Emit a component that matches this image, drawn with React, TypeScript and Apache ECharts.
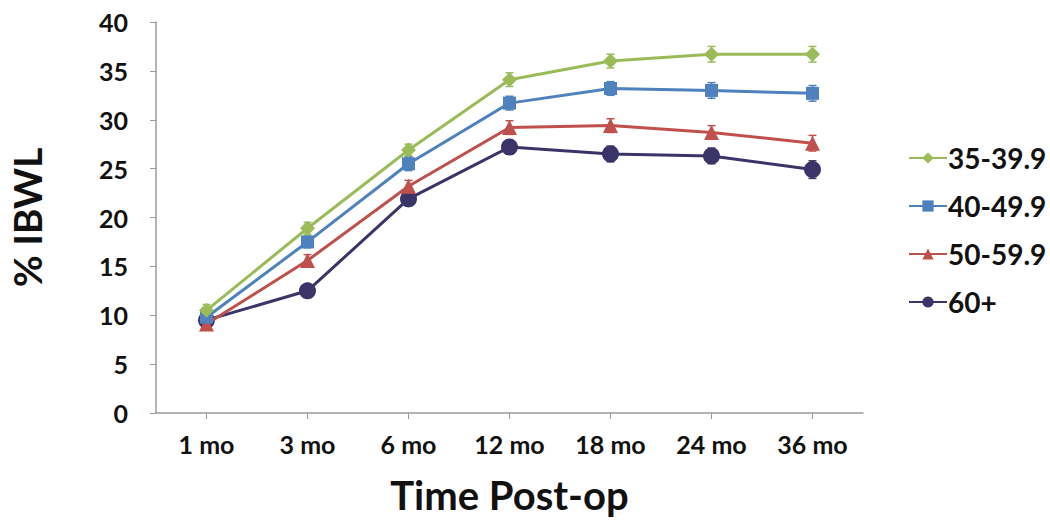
import React, { useEffect, useRef } from "react";
import * as echarts from "echarts";

const categories = ["1 mo", "3 mo", "6 mo", "12 mo", "18 mo", "24 mo", "36 mo"];
const seriesNames = ["35-39.9", "40-49.9", "50-59.9", "60+"];
const values35 = [10.5, 18.9, 26.9, 34.1, 36.0, 36.7, 36.7];
const values40 = [9.8, 17.5, 25.5, 31.7, 33.2, 33.0, 32.7];
const values50 = [9.1, 15.6, 23.2, 29.2, 29.4, 28.7, 27.6];
const values60 = [9.5, 12.5, 21.9, 27.2, 26.5, 26.3, 24.9];
const err35 = [0.6, 0.6, 0.6, 0.7, 0.7, 0.8, 0.8];
const err40 = [0.6, 0.6, 0.7, 0.7, 0.7, 0.8, 0.8];
const err50 = [0.6, 0.6, 0.6, 0.7, 0.7, 0.7, 0.8];
const err60 = [0.6, 0.6, 0.7, 0.7, 0.8, 0.8, 0.9];
const yTicks = [0, 5, 10, 15, 20, 25, 30, 35, 40];

const colors = ["#9BBB59", "#4F81BD", "#C0504D", "#3A3468"];
const symbols = ["diamond", "rect", "triangle", "circle"];
const symbolSizes = [15, 13, 15, 17];

const FONT = "Lato, 'Open Sans', sans-serif";

export default function App() {
  const ref = useRef<HTMLDivElement>(null);
  useEffect(() => {
    if (!ref.current) return;
    const chart = echarts.init(ref.current, null, { renderer: "svg" });
    const vals = [values35, values40, values50, values60];
    const errs = [err35, err40, err50, err60];

    const lineSeries = seriesNames.map((name, i) => ({
      name,
      type: "line",
      data: vals[i],
      symbol: symbols[i],
      symbolSize: symbolSizes[i],
      lineStyle: { color: colors[i], width: 3 },
      itemStyle: { color: colors[i] },
      z: 10 - i,
    }));

    const errSeries = seriesNames.map((name, i) => ({
      name: name + "-err",
      type: "custom",
      data: vals[i].map((v, j) => [j, v - errs[i][j], v + errs[i][j]]),
      renderItem: (params: any, api: any) => {
        const x = api.value(0);
        const lo = api.coord([x, api.value(1)]);
        const hi = api.coord([x, api.value(2)]);
        const cap = 4;
        const style = { stroke: colors[i], lineWidth: 1.5 };
        return {
          type: "group",
          children: [
            { type: "line", shape: { x1: lo[0], y1: lo[1], x2: hi[0], y2: hi[1] }, style },
            { type: "line", shape: { x1: lo[0] - cap, y1: lo[1], x2: lo[0] + cap, y2: lo[1] }, style },
            { type: "line", shape: { x1: hi[0] - cap, y1: hi[1], x2: hi[0] + cap, y2: hi[1] }, style },
          ],
        };
      },
      z: 1,
      silent: true,
    }));

    chart.setOption({
      animation: false,
      backgroundColor: "#ffffff",
      grid: { left: 156, right: 187, top: 22, bottom: 109, containLabel: false, outerBoundsMode: "none" },
      legend: {
        orient: "vertical",
        left: 903,
        top: 139,
        itemGap: 20,
        itemWidth: 38,
        itemHeight: 14,
        data: seriesNames,
        textStyle: { fontFamily: FONT, fontSize: 28, fontWeight: "bold", color: "#111", padding: [0, 0, 0, -4] },
      },
      xAxis: {
        type: "category",
        data: categories,
        boundaryGap: true,
        name: "Time Post-op",
        nameLocation: "middle",
        nameGap: 62,
        nameTextStyle: { fontFamily: FONT, fontSize: 40, fontWeight: "bold", color: "#111" },
        axisLine: { lineStyle: { color: "#9a9a9a", width: 1.5 } },
        axisTick: { show: true, alignWithLabel: true, length: 6, lineStyle: { color: "#9a9a9a" } },
        axisLabel: { fontFamily: FONT, fontSize: 25, fontWeight: "bold", color: "#111", margin: 18 },
        splitLine: { show: false },
      },
      yAxis: {
        type: "value",
        min: yTicks[0],
        max: yTicks[yTicks.length - 1],
        interval: 5,
        name: "% IBWL",
        nameLocation: "middle",
        nameGap: 110,
        nameRotate: 90,
        nameTextStyle: { fontFamily: FONT, fontSize: 39, fontWeight: "bold", color: "#111" },
        axisLine: { show: true, lineStyle: { color: "#9a9a9a", width: 1.5 } },
        axisTick: { show: true, length: 6, lineStyle: { color: "#9a9a9a" } },
        axisLabel: { fontFamily: FONT, fontSize: 25, fontWeight: "bold", color: "#111", margin: 28 },
        splitLine: { show: false },
      },
      series: [...errSeries, ...lineSeries],
    });
    return () => chart.dispose();
  }, []);
  return <div ref={ref} style={{ width: 1050, height: 522, position: "absolute", left: 0, top: 0 }} />;
}
